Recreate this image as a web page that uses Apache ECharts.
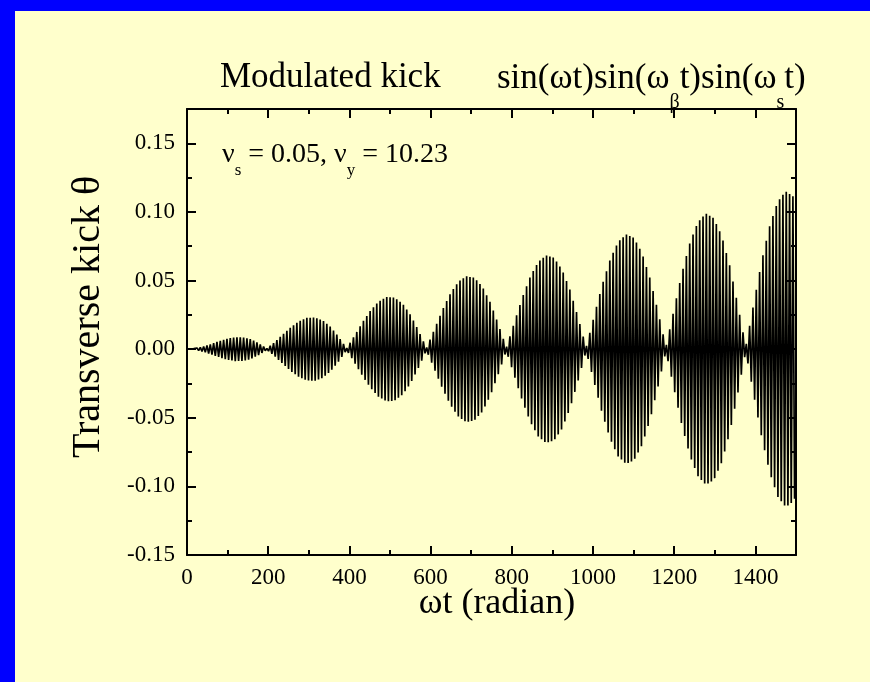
<!DOCTYPE html>
<html><head><meta charset="utf-8">
<script src="https://cdn.jsdelivr.net/npm/echarts@6/dist/echarts.min.js"></script>
<style>html,body{margin:0;padding:0;background:#ffffcc;} #c{width:870px;height:682px;}</style>
</head><body><div id="c"></div>
<script>
const envelopeStep = 19.66; // rad between samples
const envelope = [
  0, 0.0005, 0.0018, 0.0037, 0.0058, 0.0076, 0.0087, 0.0086, 0.0072, 0.0042,
  0.0004, 0.0052, 0.0107, 0.0160, 0.0202, 0.0228, 0.0231, 0.0209, 0.0161, 0.0089,
  0.0006, 0.0099, 0.0197, 0.0283, 0.0347, 0.0380, 0.0376, 0.0332, 0.0250, 0.0136,
  0.0008, 0.0146, 0.0286, 0.0406, 0.0492, 0.0532, 0.0520, 0.0455, 0.0340, 0.0183,
  0.0010, 0.0193, 0.0375, 0.0529, 0.0636, 0.0684, 0.0665, 0.0578, 0.0429, 0.0230,
  0.0012, 0.0240, 0.0465, 0.0652, 0.0781, 0.0836, 0.0810, 0.0701, 0.0518, 0.0277,
  0.0014, 0.0287, 0.0554, 0.0775, 0.0925, 0.0988, 0.0954, 0.0824, 0.0608, 0.0324,
  0.0016, 0.0333, 0.0644, 0.0898, 0.1075, 0.1150, 0.1110, 0.0947
];
const carrierHalfPeriod = 4.1; // rad, apparent spacing of the dense oscillation strokes
const xRange = [0, 1500];
const yRange = [-0.15, 0.175];
const xInterval = 200;
const yInterval = 0.05;

const data = [];
for (let i = 0; ; i++) {
  const x = i * carrierHalfPeriod;
  if (x > xRange[1]) break;
  const p = x / envelopeStep, k = Math.floor(p), f = p - k;
  const a = envelope[k] + ((envelope[k + 1] !== undefined ? envelope[k + 1] : envelope[k]) - envelope[k]) * f;
  data.push([x, (i % 2 === 0 ? 1 : -1) * a]);
}

const FONT = "'Liberation Serif', 'Times New Roman', serif";
const axisLineStyle = { color: '#000', width: 2 };
function xAx(pos, showLabel) {
  return {
    type: 'value', position: pos, min: xRange[0], max: xRange[1], interval: xInterval,
    axisLine: { show: true, onZero: false, lineStyle: axisLineStyle },
    axisTick: { show: true, inside: true, length: 9, lineStyle: axisLineStyle },
    minorTick: { show: true, splitNumber: 2, length: 5, lineStyle: axisLineStyle },
    splitLine: { show: false }, minorSplitLine: { show: false },
    axisLabel: { show: showLabel, showMaxLabel: false, fontFamily: FONT, fontSize: 23, color: '#000', margin: 11,
      formatter: v => String(v) }
  };
}
function yAx(pos, showLabel) {
  return {
    type: 'value', position: pos, min: yRange[0], max: yRange[1], interval: yInterval,
    axisLine: { show: true, onZero: false, lineStyle: axisLineStyle },
    axisTick: { show: true, inside: true, length: 9, lineStyle: axisLineStyle },
    minorTick: { show: true, splitNumber: 2, length: 5, lineStyle: axisLineStyle },
    splitLine: { show: false }, minorSplitLine: { show: false },
    axisLabel: { show: showLabel, showMaxLabel: false, fontFamily: FONT, fontSize: 23, color: '#000', margin: 12,
      formatter: v => v.toFixed(2) }
  };
}

const chart = echarts.init(document.getElementById('c'), null, { renderer: 'canvas' });
chart.setOption({
  animation: false,
  backgroundColor: '#ffffcc',
  grid: { left: 187, right: 74, top: 109, bottom: 127, containLabel: false },
  xAxis: [xAx('bottom', true), xAx('top', false)],
  yAxis: [yAx('left', true), yAx('right', false)],
  series: [{
    type: 'line', xAxisIndex: 0, yAxisIndex: 0, data: data, showSymbol: false,
    lineStyle: { color: '#000', width: 1.7 }, silent: true, clip: true
  }],
  graphic: [
    { type: 'rect', shape: { x: 0, y: 0, width: 870, height: 11 }, style: { fill: '#0000ff' } },
    { type: 'rect', shape: { x: 0, y: 0, width: 15, height: 682 }, style: { fill: '#0000ff' } },
    { type: 'text', x: 220, y: 78, style: { text: 'Modulated kick', fontFamily: FONT, fontSize: 35, fill: '#000', align: 'left', verticalAlign: 'middle' } },
    { type: 'text', x: 497, y: 79, style: {
      text: 'sin(ωt)sin(ω{sub|β}t)sin(ω{sub|s}t)', fontFamily: FONT, fontSize: 35, fill: '#000', align: 'left', verticalAlign: 'middle',
      rich: { sub: { fontFamily: FONT, fontSize: 20, fill: '#000', verticalAlign: 'bottom', padding: [48, 0, 0, 0] } } } },
    { type: 'text', x: 222, y: 155, style: {
      text: 'ν{sub|s} = 0.05, ν{sub|y} = 10.23', fontFamily: FONT, fontSize: 28, fill: '#000', align: 'left', verticalAlign: 'middle',
      rich: { sub: { fontFamily: FONT, fontSize: 17, fill: '#000', verticalAlign: 'bottom', padding: [32, 0, 0, 0] } } } },
    { type: 'text', x: 88, y: 317, rotation: Math.PI / 2, style: { text: 'Transverse kick θ', fontFamily: FONT, fontSize: 40, fill: '#000', align: 'center', verticalAlign: 'middle' } },
    { type: 'text', x: 497, y: 604, style: { text: 'ωt (radian)', fontFamily: FONT, fontSize: 36, fill: '#000', align: 'center', verticalAlign: 'middle' } }
  ]
});
</script></body></html>
